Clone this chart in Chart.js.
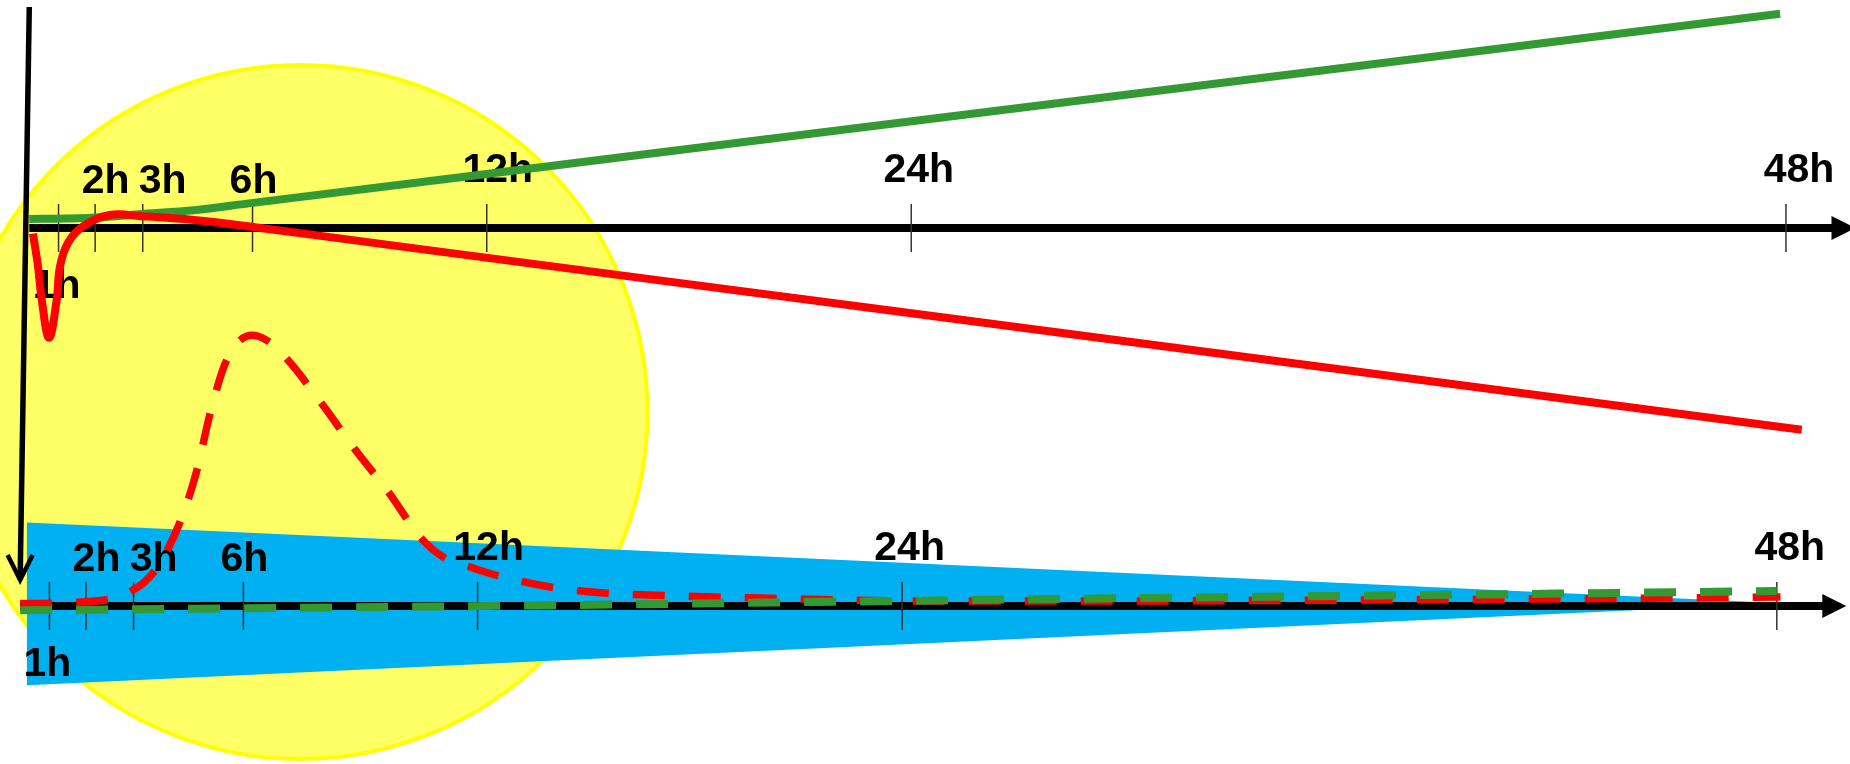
<!DOCTYPE html>
<html>
<head>
<meta charset="utf-8">
<title>Time course</title>
<script src="https://cdn.jsdelivr.net/npm/chart.js@4.4.1/dist/chart.umd.min.js"></script>
<style>
  html, body { margin: 0; padding: 0; background: #fff; overflow: hidden; }
  canvas { display: block; }
</style>
</head>
<body>
<canvas id="timeChart" width="1850" height="764"></canvas>
<script>
// time axes: where each tick sits (hours) and its label
const tickAt = [0.8, 1.8, 3.1, 6.1, 12.5, 24.1, 48];
const tickLabels = ['1h', '2h', '3h', '6h', '12h', '24h', '48h'];

// upper panel, solid curves
const greenHours = [0, 1, 2, 3, 4.5, 6, 12, 24, 47.84];
const greenValues = [0.9, 0.95, 1.08, 1.38, 1.78, 2.46, 5.18, 10.62, 21.43];

const redHours = [0.1, 0.24, 0.34, 0.54, 0.75, 0.84, 1.06, 1.47, 2.2, 3.07, 4.5, 6.11, 10.13, 24, 48.43];
const redValues = [-0.57, -3.87, -7.17, -10.97, -7.17, -3.84, -1.47, 0.16, 1.3, 1.18, 0.8, 0.1, -1.84, -8.48, -20.17];

// lower panel, dashed curves
const redDashHours = [0, 0.9, 1.55, 2.43, 3.0, 3.69, 4.37, 4.83, 5.19, 5.64, 6.33, 6.74, 7.28, 8.24, 9.1, 10.06, 10.97, 11.56, 12.29, 13.02, 14.48, 15.63, 17.16, 20.22, 24.8, 29.5, 35, 41.6, 48.1];
const redDashValues = [0.24, 0.27, 0.37, 0.67, 1.4, 3.57, 8.4, 13.57, 19.24, 24.57, 27.07, 26.57, 24.74, 20.24, 15.9, 11.4, 6.74, 4.9, 3.9, 3.07, 1.9, 1.4, 1.1, 0.8, 0.5, 0.5, 0.57, 0.7, 0.9];

const greenDashHours = [0, 14, 26, 42, 48];
const greenDashValues = [-0.43, 0.05, 0.6, 1.24, 1.5];

// lower panel, blue band (upper edge, lower edge)
const bandHours = [0.18, 48.17];
const bandUpper = [8.34, 0.27];
const bandLower = [-7.93, 0.27];

// highlighted zone (upper panel units)
const zoneCenter = { h: 7.41, v: -18.4 };
const zoneRadiusH = 9.48;

const axisEndH = 49.9;
const vAxisTop = 22.1;  // top of vertical axis, upper panel units
const vAxisTip = 2.6;   // arrow tip, lower panel units

// small horizontal nudges of the tick labels, px
const labelShift = [-2, 10.5, 20, 1, 11, 7.5, 13];

const pts = (hs, vs) => hs.map((h, i) => ({ x: h, y: vs[i] }));

function drawTimeAxis(ctx, xs, y) {
  const start = xs.getPixelForValue(0);
  const tip = xs.getPixelForValue(axisEndH);
  ctx.strokeStyle = '#000';
  ctx.lineWidth = 8;
  ctx.lineCap = 'butt';
  ctx.beginPath();
  ctx.moveTo(start, y);
  ctx.lineTo(tip - 20, y);
  ctx.stroke();
  ctx.fillStyle = '#000';
  ctx.beginPath();
  ctx.moveTo(tip, y);
  ctx.lineTo(tip - 24, y - 12);
  ctx.lineTo(tip - 24, y + 12);
  ctx.closePath();
  ctx.fill();

  ctx.strokeStyle = '#333';
  ctx.lineWidth = 1.5;
  ctx.font = 'bold 41px "Liberation Sans", Arial, sans-serif';
  ctx.textAlign = 'center';
  ctx.textBaseline = 'alphabetic';
  tickAt.forEach((h, i) => {
    const x = xs.getPixelForValue(h);
    ctx.beginPath();
    ctx.moveTo(x, y - 24);
    ctx.lineTo(x, y + 24);
    ctx.stroke();
    const lx = x + labelShift[i];
    if (i === 0) {
      ctx.fillText(tickLabels[i], lx, y + 69.5);
    } else {
      ctx.fillText(tickLabels[i], lx, h >= 12 ? y - 46 : y - 35.5);
    }
  });
}

const axesPlugin = {
  id: 'timeAxes',
  afterDatasetDraw(chart, args) {
    if (args.index !== 2) return; // right after the blue band
    const ctx = chart.ctx;
    const { xT, yT, xB, yB } = chart.scales;
    ctx.save();
    drawTimeAxis(ctx, xT, yT.getPixelForValue(0));
    drawTimeAxis(ctx, xB, yB.getPixelForValue(0));

    const x0 = xT.getPixelForValue(0), y0 = yT.getPixelForValue(vAxisTop);
    const x1 = xB.getPixelForValue(0), y1 = yB.getPixelForValue(vAxisTip);
    ctx.strokeStyle = '#000';
    ctx.lineWidth = 5.5;
    ctx.lineJoin = 'miter';
    ctx.beginPath();
    ctx.moveTo(x0, y0);
    ctx.lineTo(x1, y1);
    ctx.stroke();
    ctx.lineWidth = 4.5;
    ctx.beginPath();
    ctx.moveTo(x1 - 12.5, y1 - 25);
    ctx.lineTo(x1, y1);
    ctx.lineTo(x1 + 12.5, y1 - 25);
    ctx.stroke();
    ctx.restore();
  }
};

new Chart(document.getElementById('timeChart'), {
  type: 'line',
  data: {
    datasets: [
      {
        type: 'scatter',
        data: [{ x: zoneCenter.h, y: zoneCenter.v }],
        xAxisID: 'xT', yAxisID: 'yT',
        pointRadius: (c) => {
          const s = c.chart.scales.xT;
          return s.getPixelForValue(zoneRadiusH) - s.getPixelForValue(0);
        },
        pointBackgroundColor: '#FFFF66',
        pointBorderColor: '#FFFF00',
        pointBorderWidth: 4,
        order: 10,
        clip: false
      },
      {
        data: pts(bandHours, bandUpper),
        xAxisID: 'xB', yAxisID: 'yB',
        borderWidth: 0,
        fill: false,
        order: 9
      },
      {
        data: pts(bandHours, bandLower),
        xAxisID: 'xB', yAxisID: 'yB',
        borderWidth: 0,
        backgroundColor: '#00B0F0',
        fill: '-1',
        order: 8
      },
      {
        data: pts(greenHours, greenValues),
        xAxisID: 'xT', yAxisID: 'yT',
        borderColor: '#339933',
        borderWidth: 8,
        cubicInterpolationMode: 'monotone',
        order: 5
      },
      {
        data: pts(redHours, redValues),
        xAxisID: 'xT', yAxisID: 'yT',
        borderColor: '#FF0000',
        borderWidth: 8,
        tension: 0.4,
        order: 4
      },
      {
        data: pts(redDashHours, redDashValues),
        xAxisID: 'xB', yAxisID: 'yB',
        borderColor: '#FF0000',
        borderWidth: 7.5,
        borderDash: [32, 24],
        cubicInterpolationMode: 'monotone',
        order: 3
      },
      {
        data: pts(greenDashHours, greenDashValues),
        xAxisID: 'xB', yAxisID: 'yB',
        borderColor: '#339933',
        borderWidth: 8,
        borderDash: [32, 24],
        cubicInterpolationMode: 'monotone',
        order: 2
      }
    ]
  },
  options: {
    responsive: false,
    animation: false,
    events: [],
    layout: { padding: 0 },
    elements: {
      point: { radius: 0 },
      line: { borderCapStyle: 'butt', borderJoinStyle: 'round' }
    },
    plugins: {
      legend: { display: false },
      tooltip: { enabled: false }
    },
    scales: {
      xT: { type: 'linear', min: -0.8, max: 49.75, display: false },
      yT: { type: 'linear', min: -53.6, max: 22.8, display: false },
      xB: { type: 'linear', min: -0.55, max: 50, display: false },
      yB: { type: 'linear', min: -15.8, max: 60.6, display: false }
    }
  },
  plugins: [axesPlugin]
});
</script>
</body>
</html>
